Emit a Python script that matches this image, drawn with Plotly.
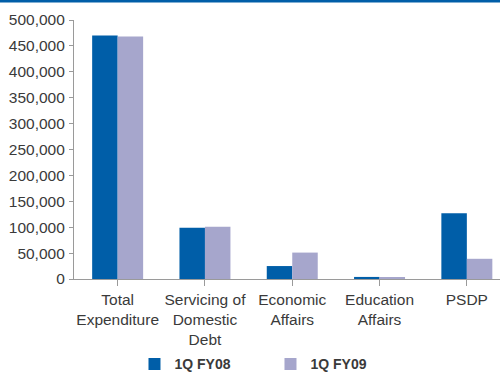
import plotly.graph_objects as go

# Expenditure heads and first-quarter values (Rs million)
categories = [
    "Total<br>Expenditure",
    "Servicing of<br>Domestic<br>Debt",
    "Economic<br>Affairs",
    "Education<br>Affairs",
    "PSDP",
]
fy08_values = [470000, 99000, 25000, 4000, 127000]
fy09_values = [468000, 101000, 51000, 3500, 39000]
y_tick_values = [0, 50000, 100000, 150000, 200000, 250000, 300000, 350000, 400000, 450000, 500000]
y_tick_labels = [f"{v:,}" for v in y_tick_values]

BLUE = "#005ea8"
LAVENDER = "#a6a6cc"
TEXT = "#3a3a3a"
AXIS = "#9a9a9a"
FONT = "Liberation Sans, Arial, sans-serif"

W, H = 500, 373
ML, MR, MT, MB = 74, 0, 20, 94

fig = go.Figure()
fig.add_trace(go.Bar(name="1Q FY08", x=list(range(len(categories))), y=fy08_values,
                     marker=dict(color=BLUE, line=dict(width=0))))
fig.add_trace(go.Bar(name="1Q FY09", x=list(range(len(categories))), y=fy09_values,
                     marker=dict(color=LAVENDER, line=dict(width=0))))

# the blue rule across the top of the panel
plot_h = H - MT - MB
fig.add_shape(type="rect", xref="paper", yref="paper",
              x0=-ML / (W - ML - MR), x1=1.0,
              y0=1 + (MT - 2.5) / plot_h, y1=1 + MT / plot_h + 0.01,
              fillcolor=BLUE, line=dict(width=0), layer="above")

fig.update_layout(
    width=W, height=H,
    margin=dict(l=ML, r=MR, t=MT, b=MB, pad=0, autoexpand=False),
    paper_bgcolor="white", plot_bgcolor="white",
    barmode="group", bargap=0.416, bargroupgap=0,
    font=dict(family=FONT, size=15.5, color=TEXT),
    showlegend=True,
    legend=dict(orientation="h", x=0.142, xanchor="left", y=-0.268, yanchor="top",
                font=dict(family=FONT, size=14, color=TEXT, weight="bold"),
                entrywidth=91, entrywidthmode="pixels",
                itemwidth=30, traceorder="normal", bgcolor="rgba(0,0,0,0)"),
    xaxis=dict(
        range=[-0.5, -0.5 + (W - ML - MR) / 87.3],
        tickmode="array", tickvals=list(range(len(categories))), ticktext=categories,
        tickson="boundaries", ticks="outside", ticklen=6, tickcolor=AXIS, tickwidth=1,
        showline=True, linecolor=AXIS, linewidth=1.2,
        showgrid=False, zeroline=False, fixedrange=True, automargin=False,
        tickfont=dict(family=FONT, size=15.5, color=TEXT),
    ),
    yaxis=dict(
        range=[0, 500000],
        tickmode="array", tickvals=y_tick_values, ticktext=y_tick_labels,
        ticks="outside", ticklen=4, tickcolor=AXIS, tickwidth=1,
        showline=True, linecolor=AXIS, linewidth=1.2,
        showgrid=False, zeroline=False, fixedrange=True, automargin=False,
        tickfont=dict(family=FONT, size=15.5, color=TEXT),
        ticklabelstandoff=1,
    ),
)

fig.write_html("out.html", config={"displayModeBar": False})
